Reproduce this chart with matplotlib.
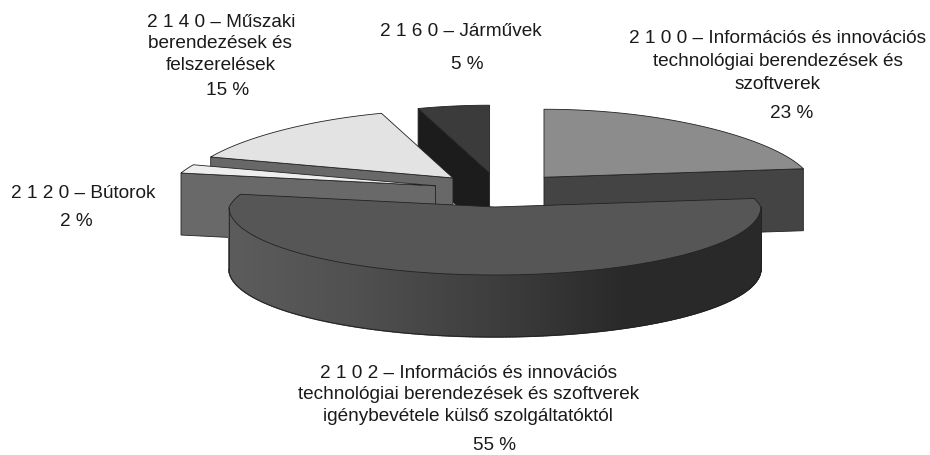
import numpy as np
import matplotlib
matplotlib.use('Agg')
import matplotlib.pyplot as plt
from matplotlib.patches import Polygon
from matplotlib.collections import PolyCollection

plt.rcParams['font.family'] = ['Liberation Sans', 'DejaVu Sans']

codes = ['2100', '2102', '2120', '2140', '2160']
shares = [23, 55, 2, 15, 5]
top_colors = ['#8c8c8c', '#565656', '#eeeeee', '#e3e3e3', '#3b3b3b']
side_colors = ['#444444', None, '#696969', '#686868', '#1c1c1c']
wall_grays = [0.36, 0.31, 0.24, 0.16, 0.16]

label_lines = [
    (777, 37, '2 1 0 0 – Információs és innovációs'),
    (778, 60, 'technológiai berendezések és'),
    (778, 83, 'szoftverek'),
    (792, 112, '23 %'),
    (468, 372, '2 1 0 2 – Információs és innovációs'),
    (469, 393, 'technológiai berendezések és szoftverek'),
    (468, 415, 'igénybevétele külső szolgáltatóktól'),
    (494, 444, '55 %'),
    (83, 192, '2 1 2 0 – Bútorok'),
    (76, 220, '2 %'),
    (221, 21, '2 1 4 0 – Műszaki'),
    (220, 42, 'berendezések és'),
    (221, 64, 'felszerelések'),
    (228, 89, '15 %'),
    (461, 30, '2 1 6 0 – Járművek'),
    (467, 63, '5 %'),
]

# pie geometry, in picture pixels
cx, cy = 500, 190
a, b = 266, 68
depth = 62
explode = 0.25
persp = 0.137


def point(angle, ox, oy, r=1.0):
    t = np.radians(angle)
    s = 1 - persp * np.maximum(np.sin(t), 0)
    return ox + a * r * np.cos(t) * s, oy - b * r * np.sin(t)


def top_face(start, end, ox, oy):
    ang = np.linspace(start, end, 120)
    x, y = point(ang, ox, oy)
    return np.vstack([[ox, oy], np.column_stack([x, y])])


def radial_face(angle, ox, oy):
    x, y = point(angle, ox, oy)
    return [(ox, oy), (x, y), (x, y + depth), (ox, oy + depth)]


fig = plt.figure(figsize=(9.3, 4.55), dpi=100)
ax = fig.add_axes([0, 0, 1, 1])
ax.set_xlim(0, 930)
ax.set_ylim(455, 0)
ax.axis('off')

# angles run clockwise from twelve o'clock
bounds = 90 - np.cumsum([0] + shares) * 3.6
slices = {}
for i, code in enumerate(codes):
    mid = (bounds[i] + bounds[i + 1]) / 2
    ox, oy = point(mid, cx, cy, explode)
    if np.sin(np.radians(mid)) > 0:
        # offset ignores the narrowing at the back of the pie
        ox = cx + a * explode * np.cos(np.radians(mid))
    slices[code] = (bounds[i], bounds[i + 1], ox, oy, i)

edge = dict(edgecolor='#222222', linewidth=0.6)
for code in ['2160', '2100', '2140', '2120']:
    start, end, ox, oy, i = slices[code]
    side_angle = end if code == '2100' else start
    ax.add_patch(Polygon(radial_face(side_angle, ox, oy), facecolor=side_colors[i], **edge))
    ax.add_patch(Polygon(top_face(start, end, ox, oy), facecolor=top_colors[i], **edge))

# big slice: shaded outer wall, then the top
start, end, ox, oy, i = slices['2102']
ox -= 3
ang = np.linspace(end, start, 300)
x, y = point(ang, ox, oy)
keep = (ang >= -180) & (ang <= 0)
xk, yk = x[keep], y[keep]
pos = np.linspace(0, 1, len(wall_grays))
quads = []
grays = []
for k in range(len(xk) - 1):
    quads.append([(xk[k], yk[k]), (xk[k + 1], yk[k + 1]), (xk[k + 1], yk[k + 1] + depth), (xk[k], yk[k] + depth)])
    g = np.interp((xk[k] - xk.min()) / (xk.max() - xk.min()), pos, wall_grays)
    grays.append((g, g, g))
ax.add_collection(PolyCollection(quads, facecolors=grays, edgecolors=grays, linewidths=1.0))
ax.plot(xk, yk + depth, color='#222222', lw=0.7)
ax.add_patch(Polygon(top_face(start, end, ox, oy), facecolor=top_colors[i], **edge))
ax.plot([xk[0], xk[0]], [yk[0], yk[0] + depth], color='#222222', lw=0.6)
ax.plot([xk[-1], xk[-1]], [yk[-1], yk[-1] + depth], color='#222222', lw=0.6)

for tx, ty, s in label_lines:
    ax.text(tx, ty + 6, s, ha='center', va='baseline', fontsize=13.7, color='#1a1a1a')

fig.savefig('out.png', dpi=100)
